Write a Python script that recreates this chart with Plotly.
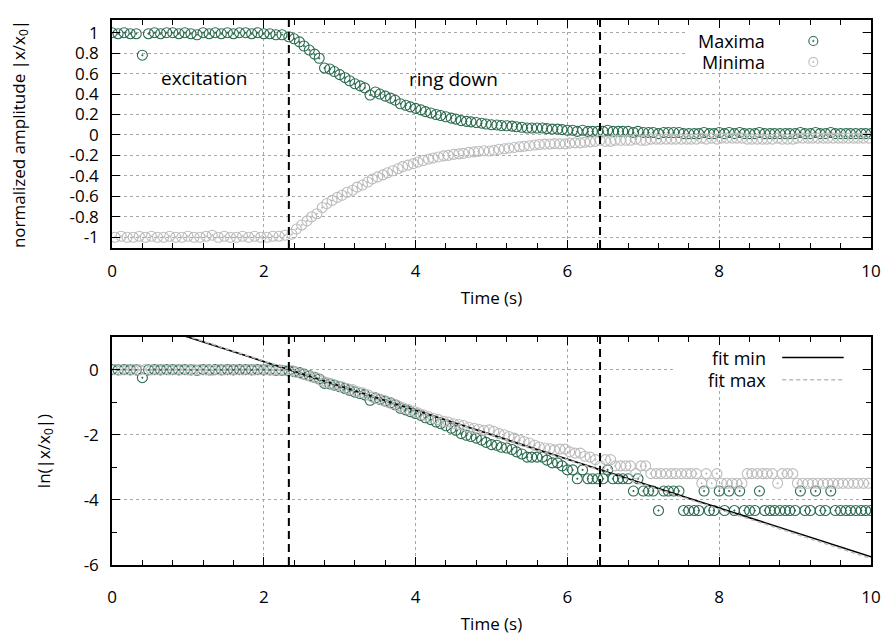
import numpy as np
import plotly.graph_objects as go

# ---------------------------------------------------------------- data
# Excitation phase: peak amplitudes, normalized to x0
exc_t_max = [0.00, 0.08, 0.16, 0.24, 0.32, 0.40, 0.48, 0.56, 0.64, 0.72,
             0.80, 0.88, 0.96, 1.04, 1.12, 1.20, 1.28, 1.36, 1.44, 1.52,
             1.60, 1.68, 1.76, 1.84, 1.92, 2.00, 2.08, 2.16, 2.24]
exc_max = [1.00, 0.99, 1.00, 0.99, 0.99, 0.78, 0.99, 1.00, 0.99, 1.00,
           1.00, 0.99, 1.00, 0.99, 0.98, 1.00, 0.99, 1.00, 0.99, 1.00,
           0.99, 1.00, 1.00, 0.99, 1.00, 0.99, 0.99, 0.98, 0.98]
exc_t_min = [0.04, 0.12, 0.20, 0.28, 0.36, 0.44, 0.52, 0.60, 0.68, 0.76,
             0.84, 0.92, 1.00, 1.08, 1.16, 1.24, 1.32, 1.40, 1.48, 1.56,
             1.64, 1.72, 1.80, 1.88, 1.96, 2.04, 2.12, 2.20, 2.28]
exc_min = [-1.00, -0.99, -1.00, -1.00, -0.99, -1.00, -0.99, -1.00, -1.00, -0.99,
           -1.00, -1.00, -0.99, -1.00, -1.00, -0.99, -0.98, -1.00, -0.99, -1.00,
           -1.00, -0.99, -1.00, -0.99, -1.00, -1.00, -0.99, -0.99, -0.98]

# Ring-down phase
ring_t_max = [2.33, 2.40, 2.47, 2.53, 2.60, 2.67, 2.73, 2.80, 2.87, 2.93,
              3.00, 3.07, 3.13, 3.20, 3.27, 3.33, 3.40, 3.47, 3.53, 3.60,
              3.67, 3.73, 3.80, 3.87, 3.93, 4.00, 4.07, 4.13, 4.20, 4.27,
              4.33, 4.40, 4.47, 4.53, 4.60, 4.67, 4.73, 4.80, 4.87, 4.93,
              5.00, 5.07, 5.13, 5.20, 5.27, 5.33, 5.40, 5.47, 5.53, 5.60,
              5.67, 5.73, 5.80, 5.87, 5.93, 6.00, 6.07, 6.13, 6.20, 6.27,
              6.33, 6.40, 6.47, 6.53, 6.60, 6.67, 6.73, 6.80, 6.87, 6.93,
              7.00, 7.07, 7.13, 7.20, 7.27, 7.33, 7.40, 7.47, 7.53, 7.60,
              7.67, 7.73, 7.80, 7.87, 7.93, 8.00, 8.07, 8.13, 8.20, 8.27,
              8.33, 8.40, 8.47, 8.53, 8.60, 8.67, 8.73, 8.80, 8.87, 8.93,
              9.00, 9.07, 9.13, 9.20, 9.27, 9.33, 9.40, 9.47, 9.53, 9.60,
              9.67, 9.73, 9.80, 9.87, 9.93, 10.00]
ring_max = [0.96, 0.94, 0.91, 0.87, 0.83, 0.79, 0.75, 0.655, 0.645, 0.62,
            0.59, 0.56, 0.53, 0.50, 0.48, 0.46, 0.39, 0.42, 0.40, 0.38,
            0.36, 0.34, 0.305, 0.29, 0.275, 0.26, 0.245, 0.228, 0.215, 0.20,
            0.19, 0.178, 0.165, 0.155, 0.14, 0.133, 0.128, 0.122, 0.115, 0.107,
            0.10, 0.098, 0.092, 0.09, 0.086, 0.08, 0.075, 0.068, 0.068, 0.068,
            0.068, 0.062, 0.057, 0.057, 0.052, 0.046, 0.046, 0.035, 0.046, 0.035,
            0.035, 0.035, 0.035, 0.046, 0.035, 0.035, 0.035, 0.035, 0.024, 0.035,
            0.024, 0.024, 0.024, 0.0132, 0.024, 0.024, 0.024, 0.024, 0.0132, 0.0132,
            0.0132, 0.0132, 0.024, 0.0132, 0.0132, 0.024, 0.0132, 0.024, 0.0132, 0.024,
            0.0132, 0.0132, 0.0132, 0.024, 0.0132, 0.0132, 0.0132, 0.0132, 0.0132, 0.0132,
            0.0132, 0.024, 0.0132, 0.0132, 0.024, 0.0132, 0.0132, 0.024, 0.0132, 0.0132,
            0.0132, 0.0132, 0.0132, 0.0132, 0.0132, 0.0132]
ring_t_min = [2.37, 2.43, 2.50, 2.57, 2.63, 2.70, 2.77, 2.83, 2.90, 2.97,
              3.03, 3.10, 3.17, 3.23, 3.30, 3.37, 3.43, 3.50, 3.57, 3.63,
              3.70, 3.77, 3.83, 3.90, 3.97, 4.03, 4.10, 4.17, 4.23, 4.30,
              4.37, 4.43, 4.50, 4.57, 4.63, 4.70, 4.77, 4.83, 4.90, 4.97,
              5.03, 5.10, 5.17, 5.23, 5.30, 5.37, 5.43, 5.50, 5.57, 5.63,
              5.70, 5.77, 5.83, 5.90, 5.97, 6.03, 6.10, 6.17, 6.23, 6.30,
              6.37, 6.43, 6.50, 6.57, 6.63, 6.70, 6.77, 6.83, 6.90, 6.97,
              7.03, 7.10, 7.17, 7.23, 7.30, 7.37, 7.43, 7.50, 7.57, 7.63,
              7.70, 7.77, 7.83, 7.90, 7.97, 8.03, 8.10, 8.17, 8.23, 8.30,
              8.37, 8.43, 8.50, 8.57, 8.63, 8.70, 8.77, 8.83, 8.90, 8.97,
              9.03, 9.10, 9.17, 9.23, 9.30, 9.37, 9.43, 9.50, 9.57, 9.63,
              9.70, 9.77, 9.83, 9.90, 9.97]
ring_min = [-0.97, -0.92, -0.88, -0.84, -0.80, -0.77, -0.71, -0.67, -0.64, -0.61,
            -0.59, -0.56, -0.54, -0.51, -0.49, -0.46, -0.43, -0.41, -0.39, -0.37,
            -0.35, -0.33, -0.31, -0.295, -0.28, -0.265, -0.25, -0.235, -0.225, -0.215,
            -0.205, -0.20, -0.19, -0.185, -0.18, -0.17, -0.165, -0.16, -0.155, -0.157,
            -0.15, -0.14, -0.135, -0.128, -0.122, -0.115, -0.11, -0.105, -0.098, -0.093,
            -0.09, -0.088, -0.085, -0.087, -0.087, -0.08, -0.077, -0.077, -0.07, -0.068,
            -0.063, -0.052, -0.063, -0.063, -0.052, -0.052, -0.052, -0.052, -0.041, -0.052,
            -0.052, -0.041, -0.041, -0.041, -0.041, -0.041, -0.041, -0.041, -0.041, -0.041,
            -0.041, -0.0305, -0.041, -0.0305, -0.041, -0.0305, -0.0305, -0.0305, -0.0305, -0.0305,
            -0.041, -0.041, -0.041, -0.041, -0.041, -0.041, -0.0305, -0.041, -0.041, -0.041,
            -0.0305, -0.0305, -0.0305, -0.0305, -0.0305, -0.0305, -0.0305, -0.0305, -0.0305, -0.0305,
            -0.0305, -0.0305, -0.0305, -0.0305, -0.0305]

# Exponential-decay fits of ln|x/x0|: (slope, intercept)
fit_min = (-0.750, 1.750)
fit_max = (-0.758, 1.780)
fit_span = [0.0, 10.0]

# Phase boundaries (s)
excitation_end = 2.33
ringdown_end = 6.43

top_ticks = [1, 0.8, 0.6, 0.4, 0.2, 0, -0.2, -0.4, -0.6, -0.8, -1]
top_ticktext = ["1", "0.8", "0.6", "0.4", "0.2", "0", "-0.2", "-0.4", "-0.6", "-0.8", "-1"]
bot_ticks = [0, -2, -4, -6]
bot_ticktext = ["0", "-2", "-4", "-6"]

# ---------------------------------------------------------------- styling
GREEN = "#2b6b4f"
GREY = "#bcbcbc"
FONT = "Open Sans"
TICK_FS = 17
TITLE_FS = 17
TEXT_FS = 18

t_max = np.array(exc_t_max + ring_t_max)
a_max = np.array(exc_max + ring_max)
t_min = np.array(exc_t_min + ring_t_min)
a_min = np.array(exc_min + ring_min)

marker_kw = dict(symbol="circle-open-dot", size=10)

fig = go.Figure()
# top: normalized amplitude
fig.add_trace(go.Scatter(x=t_max, y=a_max, mode="markers", name="Maxima",
                         marker=dict(color=GREEN, line=dict(width=1.1), **marker_kw),
                         xaxis="x", yaxis="y"))
fig.add_trace(go.Scatter(x=t_min, y=a_min, mode="markers", name="Minima",
                         marker=dict(color=GREY, line=dict(width=1.1), **marker_kw),
                         xaxis="x", yaxis="y"))
# bottom: logarithm of the envelope
fig.add_trace(go.Scatter(x=t_max, y=np.log(np.abs(a_max)), mode="markers",
                         marker=dict(color=GREEN, line=dict(width=1.1), **marker_kw),
                         xaxis="x2", yaxis="y2"))
fig.add_trace(go.Scatter(x=t_min, y=np.log(np.abs(a_min)), mode="markers",
                         marker=dict(color=GREY, line=dict(width=1.1), **marker_kw),
                         xaxis="x2", yaxis="y2"))
fx = np.array(fit_span)
fig.add_trace(go.Scatter(x=fx, y=fit_min[0] * fx + fit_min[1], mode="lines", name="fit min",
                         line=dict(color="black", width=1.6), xaxis="x2", yaxis="y2"))
fig.add_trace(go.Scatter(x=fx, y=fit_max[0] * fx + fit_max[1], mode="lines", name="fit max",
                         line=dict(color=GREY, width=1.6, dash="4px,3px"), xaxis="x2", yaxis="y2"))

title_font = dict(family=FONT, size=TITLE_FS, color="black")
axis_common = dict(
    automargin=False,
    showline=True, linecolor="black", linewidth=1.5, mirror="allticks",
    ticks="inside", ticklen=8, tickwidth=1.2, tickcolor="black",
    showgrid=True, gridcolor="#a8a8a8", griddash="dot", gridwidth=1,
    zeroline=False, tickfont=dict(family=FONT, size=TICK_FS, color="black"),
    ticklabelstandoff=8,
)
x_minor = dict(tickmode="linear", tick0=0, dtick=0.4, ticks="inside",
               ticklen=5, tickwidth=1.2, tickcolor="black", showgrid=False)
x_common = dict(axis_common, range=[0, 10], tickmode="linear", tick0=0, dtick=2, minor=x_minor)

fig.update_layout(
    width=890, height=635,
    margin=dict(l=112, r=19, t=20, b=70),
    paper_bgcolor="white", plot_bgcolor="white",
    showlegend=False,
    font=dict(family=FONT, size=TICK_FS, color="black"),
    xaxis=dict(x_common, domain=[0, 1], anchor="y", ticklabelstandoff=7,
               title=dict(text="Time (s)", font=title_font, standoff=11)),
    yaxis=dict(axis_common, domain=[0.5817, 1.0], anchor="x", range=[-1.105, 1.124],
               tickmode="array", tickvals=top_ticks, ticktext=top_ticktext,
               title=dict(text="normalized amplitude |x/x<sub>0</sub>|",
                          font=title_font, standoff=40)),
    xaxis2=dict(x_common, domain=[0, 1], anchor="y2", ticklabelstandoff=16,
                title=dict(text="Time (s)", font=title_font, standoff=11)),
    yaxis2=dict(axis_common, domain=[0.0, 0.4183], anchor="x2", range=[-6, 1],
                tickmode="array", tickvals=bot_ticks, ticktext=bot_ticktext,
                minor=dict(tickmode="linear", tick0=0, dtick=1, ticks="inside",
                           ticklen=5, tickwidth=1.2, tickcolor="black", showgrid=False),
                title=dict(text="ln(|x/x<sub>0</sub>|)", font=title_font, standoff=29)),
)

shapes = []
# phase boundaries in both panels
for xr, yr in (("x", "y domain"), ("x2", "y2 domain")):
    for xv in (excitation_end, ringdown_end):
        shapes.append(dict(type="line", xref=xr, yref=yr, x0=xv, x1=xv, y0=0, y1=1.01,
                           line=dict(color="black", width=2, dash="8px,5px"), layer="above"))

# opaque key boxes
shapes.append(dict(type="rect", xref="x", yref="y", x0=7.55, x1=9.85, y0=0.68, y1=1.124,
                   fillcolor="white", line=dict(width=0), layer="between"))
shapes.append(dict(type="rect", xref="x2", yref="y2", x0=7.39, x1=9.88, y0=-0.46, y1=1.0,
                   fillcolor="white", line=dict(width=0), layer="between"))

# key samples: point symbols (top) and line styles (bottom)
for yv, col in ((0.919, GREEN), (0.714, GREY)):
    shapes.append(dict(type="circle", xref="x", yref="y", xsizemode="pixel", ysizemode="pixel",
                       xanchor=9.24, yanchor=yv, x0=-4.5, x1=4.5, y0=-4.5, y1=4.5,
                       line=dict(color=col, width=1.1), layer="above"))
    shapes.append(dict(type="circle", xref="x", yref="y", xsizemode="pixel", ysizemode="pixel",
                       xanchor=9.24, yanchor=yv, x0=-0.8, x1=0.8, y0=-0.8, y1=0.8,
                       fillcolor=col, line=dict(color=col, width=0.5), layer="above"))
shapes.append(dict(type="line", xref="x2", yref="y2", x0=8.83, x1=9.64, y0=0.37, y1=0.37,
                   line=dict(color="black", width=1.6), layer="above"))
shapes.append(dict(type="line", xref="x2", yref="y2", x0=8.83, x1=9.64, y0=-0.31, y1=-0.31,
                   line=dict(color=GREY, width=1.6, dash="4px,3px"), layer="above"))
fig.update_layout(shapes=shapes)

ann_font = dict(family=FONT, size=TEXT_FS, color="black")
annotations = [
    dict(text="excitation", x=1.22, y=0.56, xref="x", yref="y", showarrow=False,
         font=dict(ann_font, size=TEXT_FS + 1)),
    dict(text="ring down", x=4.5, y=0.55, xref="x", yref="y", showarrow=False,
         font=dict(ann_font, size=TEXT_FS + 1)),
    dict(text="Maxima", x=8.63, y=0.919, xref="x", yref="y", xanchor="right",
         showarrow=False, font=ann_font),
    dict(text="Minima", x=8.63, y=0.714, xref="x", yref="y", xanchor="right",
         showarrow=False, font=ann_font),
    dict(text="fit min", x=8.64, y=0.37, xref="x2", yref="y2", xanchor="right",
         showarrow=False, font=ann_font),
    dict(text="fit max", x=8.64, y=-0.31, xref="x2", yref="y2", xanchor="right",
         showarrow=False, font=ann_font),
]
fig.update_layout(annotations=annotations)

fig.write_html("out.html")
